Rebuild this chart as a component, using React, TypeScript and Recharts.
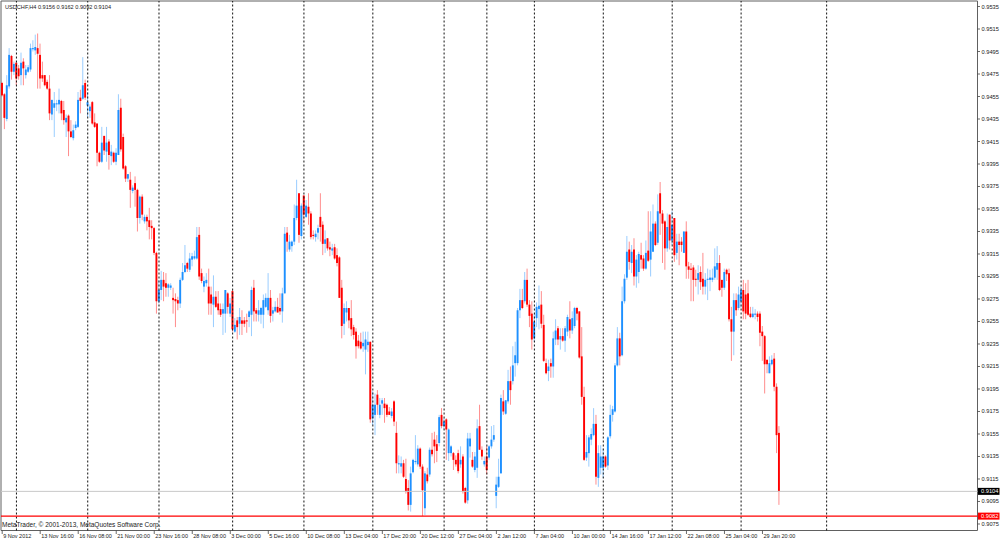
import React from 'react';
import { ComposedChart, Bar, XAxis, YAxis, ReferenceLine, ReferenceArea } from 'recharts';

const opens = [
0.9467,0.9457,0.9435,0.9464,0.9491,0.9477,0.9485,0.9480,0.9474,0.9486,
0.9474,0.9477,0.9479,0.9497,0.9496,0.9498,0.9492,0.9474,0.9474,0.9468,
0.9462,0.9439,0.9445,0.9448,0.9448,0.9451,0.9443,0.9432,0.9438,0.9424,
0.9418,0.9427,0.9428,0.9454,0.9453,0.9467,0.9447,0.9442,0.9450,0.9432,
0.9431,0.9405,0.9397,0.9420,0.9406,0.9415,0.9402,0.9405,0.9397,0.9403,
0.9445,0.9419,0.9393,0.9382,0.9381,0.9371,0.9378,0.9372,0.9347,0.9366,
0.9344,0.9348,0.9345,0.9340,0.9338,0.9316,0.9273,0.9283,0.9292,0.9289,
0.9285,0.9285,0.9276,0.9275,0.9274,0.9271,0.9292,0.9299,0.9307,0.9301,
0.9310,0.9311,0.9311,0.9332,0.9298,0.9286,0.9289,0.9286,0.9279,0.9270,
0.9277,0.9271,0.9266,0.9262,0.9262,0.9280,0.9262,0.9282,0.9246,0.9256,
0.9253,0.9256,0.9256,0.9256,0.9259,0.9261,0.9285,0.9265,0.9261,0.9261,
0.9261,0.9268,0.9265,0.9276,0.9262,0.9264,0.9268,0.9267,0.9264,0.9280,
0.9334,0.9319,0.9322,0.9326,0.9347,0.9369,0.9331,0.9367,0.9348,0.9357,
0.9351,0.9332,0.9330,0.9334,0.9348,0.9341,0.9324,0.9329,0.9321,0.9318,
0.9321,0.9314,0.9312,0.9285,0.9253,0.9263,0.9267,0.9258,0.9250,0.9246,
0.9238,0.9237,0.9233,0.9230,0.9234,0.9237,0.9169,0.9172,0.9190,0.9172,
0.9182,0.9182,0.9181,0.9175,0.9171,0.9184,0.9156,0.9128,0.9126,0.9129,
0.9115,0.9107,0.9092,0.9121,0.9130,0.9128,0.9142,0.9126,0.9089,0.9119,
0.9119,0.9141,0.9150,0.9146,0.9147,0.9172,0.9162,0.9168,0.9138,0.9138,
0.9138,0.9132,0.9138,0.9128,0.9135,0.9107,0.9096,0.9144,0.9132,0.9123,
0.9125,0.9162,0.9141,0.9128,0.9135,0.9134,0.9144,0.9150,0.9100,0.9108,
0.9120,0.9184,0.9173,0.9184,0.9202,0.9202,0.9218,0.9218,0.9265,0.9274,
0.9273,0.9292,0.9270,0.9262,0.9240,0.9258,0.9266,0.9270,0.9252,0.9218,
0.9211,0.9218,0.9215,0.9239,0.9249,0.9239,0.9242,0.9238,0.9246,0.9257,
0.9247,0.9251,0.9267,0.9264,0.9224,0.9188,0.9134,0.9138,0.9150,0.9154,
0.9164,0.9116,0.9125,0.9125,0.9135,0.9127,0.9153,0.9172,0.9175,0.9216,
0.9240,0.9225,0.9273,0.9294,0.9319,0.9307,0.9319,0.9295,0.9299,0.9314,
0.9311,0.9302,0.9318,0.9310,0.9317,0.9342,0.9325,0.9369,0.9351,0.9344,
0.9320,0.9350,0.9327,0.9347,0.9316,0.9326,0.9326,0.9316,0.9335,0.9304,
0.9302,0.9303,0.9293,0.9292,0.9299,0.9293,0.9286,0.9292,0.9292,0.9292,
0.9294,0.9301,0.9307,0.9292,0.9285,0.9301,0.9298,0.9257,0.9246,0.9274,
0.9267,0.9273,0.9283,0.9279,0.9280,0.9262,0.9259,0.9261,0.9262,0.9262,
0.9246,0.9242,0.9221,0.9209,0.9217,0.9222,0.9197,0.9156,
];

const highs = [
0.9468,0.9458,0.9474,0.9498,0.9492,0.9486,0.9486,0.9483,0.9494,0.9489,
0.9483,0.9483,0.9502,0.9505,0.9510,0.9511,0.9502,0.9486,0.9474,0.9470,
0.9474,0.9452,0.9459,0.9452,0.9462,0.9452,0.9451,0.9439,0.9439,0.9434,
0.9430,0.9433,0.9459,0.9461,0.9490,0.9470,0.9459,0.9448,0.9451,0.9440,
0.9431,0.9406,0.9428,0.9420,0.9428,0.9417,0.9412,0.9406,0.9409,0.9457,
0.9453,0.9422,0.9394,0.9386,0.9388,0.9376,0.9384,0.9373,0.9367,0.9368,
0.9350,0.9350,0.9356,0.9345,0.9339,0.9317,0.9292,0.9300,0.9299,0.9298,
0.9289,0.9289,0.9285,0.9280,0.9277,0.9294,0.9307,0.9323,0.9308,0.9316,
0.9316,0.9318,0.9339,0.9339,0.9302,0.9295,0.9298,0.9302,0.9286,0.9296,
0.9282,0.9282,0.9271,0.9271,0.9283,0.9281,0.9276,0.9283,0.9258,0.9259,
0.9267,0.9265,0.9259,0.9262,0.9265,0.9286,0.9292,0.9267,0.9274,0.9268,
0.9279,0.9280,0.9298,0.9283,0.9268,0.9273,0.9276,0.9280,0.9285,0.9339,
0.9339,0.9332,0.9327,0.9359,0.9381,0.9369,0.9360,0.9367,0.9363,0.9369,
0.9353,0.9336,0.9336,0.9341,0.9369,0.9344,0.9336,0.9329,0.9326,0.9324,
0.9324,0.9320,0.9313,0.9292,0.9271,0.9273,0.9267,0.9274,0.9252,0.9249,
0.9243,0.9245,0.9246,0.9246,0.9246,0.9237,0.9193,0.9191,0.9194,0.9187,
0.9187,0.9187,0.9182,0.9179,0.9178,0.9185,0.9166,0.9136,0.9135,0.9132,
0.9133,0.9114,0.9126,0.9133,0.9154,0.9145,0.9143,0.9128,0.9122,0.9125,
0.9143,0.9156,0.9157,0.9154,0.9172,0.9178,0.9169,0.9169,0.9160,0.9145,
0.9139,0.9136,0.9141,0.9144,0.9137,0.9108,0.9156,0.9156,0.9139,0.9139,
0.9168,0.9181,0.9144,0.9135,0.9144,0.9145,0.9162,0.9163,0.9117,0.9133,
0.9190,0.9194,0.9185,0.9212,0.9215,0.9233,0.9237,0.9267,0.9284,0.9284,
0.9299,0.9302,0.9274,0.9273,0.9262,0.9272,0.9287,0.9282,0.9261,0.9222,
0.9221,0.9222,0.9246,0.9257,0.9251,0.9249,0.9249,0.9251,0.9261,0.9273,
0.9264,0.9268,0.9268,0.9264,0.9250,0.9197,0.9154,0.9154,0.9160,0.9178,
0.9172,0.9145,0.9145,0.9142,0.9136,0.9153,0.9181,0.9180,0.9218,0.9250,
0.9245,0.9286,0.9297,0.9331,0.9326,0.9323,0.9329,0.9314,0.9317,0.9325,
0.9314,0.9327,0.9353,0.9353,0.9359,0.9344,0.9368,0.9379,0.9354,0.9345,
0.9351,0.9350,0.9353,0.9347,0.9333,0.9333,0.9330,0.9335,0.9344,0.9308,
0.9307,0.9305,0.9301,0.9305,0.9304,0.9316,0.9298,0.9302,0.9301,0.9302,
0.9320,0.9322,0.9314,0.9292,0.9302,0.9302,0.9302,0.9268,0.9280,0.9280,
0.9286,0.9286,0.9292,0.9289,0.9292,0.9268,0.9268,0.9266,0.9264,0.9264,
0.9251,0.9243,0.9221,0.9224,0.9225,0.9227,0.9200,0.9162,
];

const lows = [
0.9455,0.9426,0.9433,0.9462,0.9470,0.9474,0.9465,0.9470,0.9465,0.9465,
0.9471,0.9476,0.9477,0.9495,0.9492,0.9462,0.9462,0.9468,0.9464,0.9461,
0.9434,0.9434,0.9419,0.9442,0.9440,0.9434,0.9430,0.9419,0.9402,0.9418,
0.9416,0.9425,0.9427,0.9440,0.9452,0.9452,0.9437,0.9436,0.9430,0.9427,
0.9393,0.9396,0.9396,0.9403,0.9397,0.9390,0.9394,0.9396,0.9394,0.9403,
0.9406,0.9390,0.9379,0.9379,0.9356,0.9369,0.9357,0.9335,0.9342,0.9345,
0.9342,0.9336,0.9328,0.9328,0.9314,0.9262,0.9271,0.9274,0.9273,0.9277,
0.9277,0.9283,0.9262,0.9250,0.9265,0.9267,0.9291,0.9298,0.9299,0.9299,
0.9304,0.9310,0.9310,0.9292,0.9289,0.9281,0.9286,0.9261,0.9261,0.9250,
0.9267,0.9261,0.9259,0.9243,0.9245,0.9262,0.9259,0.9246,0.9245,0.9239,
0.9243,0.9243,0.9250,0.9245,0.9250,0.9242,0.9255,0.9255,0.9255,0.9253,
0.9249,0.9267,0.9261,0.9254,0.9255,0.9263,0.9263,0.9261,0.9254,0.9280,
0.9317,0.9317,0.9317,0.9323,0.9345,0.9325,0.9328,0.9342,0.9347,0.9341,
0.9328,0.9328,0.9326,0.9328,0.9326,0.9314,0.9316,0.9318,0.9313,0.9314,
0.9310,0.9304,0.9276,0.9240,0.9243,0.9255,0.9249,0.9242,0.9239,0.9222,
0.9231,0.9230,0.9228,0.9208,0.9228,0.9165,0.9163,0.9154,0.9172,0.9169,
0.9172,0.9165,0.9170,0.9172,0.9169,0.9162,0.9120,0.9120,0.9120,0.9116,
0.9102,0.9087,0.9086,0.9120,0.9128,0.9126,0.9124,0.9082,0.9083,0.9111,
0.9117,0.9135,0.9129,0.9130,0.9144,0.9160,0.9159,0.9132,0.9131,0.9135,
0.9123,0.9126,0.9120,0.9125,0.9102,0.9093,0.9093,0.9134,0.9125,0.9121,
0.9116,0.9141,0.9132,0.9126,0.9119,0.9132,0.9142,0.9148,0.9089,0.9107,
0.9120,0.9172,0.9172,0.9182,0.9181,0.9199,0.9206,0.9216,0.9258,0.9266,
0.9271,0.9268,0.9250,0.9230,0.9237,0.9250,0.9248,0.9249,0.9219,0.9208,
0.9202,0.9205,0.9205,0.9234,0.9234,0.9230,0.9237,0.9228,0.9242,0.9240,
0.9244,0.9249,0.9256,0.9222,0.9181,0.9131,0.9131,0.9126,0.9145,0.9153,
0.9110,0.9108,0.9119,0.9116,0.9125,0.9123,0.9151,0.9166,0.9174,0.9215,
0.9216,0.9224,0.9271,0.9292,0.9301,0.9298,0.9287,0.9285,0.9289,0.9302,
0.9300,0.9301,0.9308,0.9295,0.9317,0.9322,0.9323,0.9332,0.9307,0.9301,
0.9317,0.9319,0.9323,0.9308,0.9310,0.9305,0.9317,0.9316,0.9293,0.9293,
0.9273,0.9273,0.9286,0.9279,0.9283,0.9279,0.9279,0.9274,0.9282,0.9290,
0.9292,0.9292,0.9282,0.9277,0.9283,0.9291,0.9255,0.9220,0.9225,0.9260,
0.9265,0.9267,0.9257,0.9257,0.9260,0.9258,0.9258,0.9257,0.9255,0.9233,
0.9220,0.9191,0.9209,0.9209,0.9216,0.9193,0.9138,0.9092,
];

const closes = [
0.9456,0.9436,0.9465,0.9492,0.9477,0.9484,0.9471,0.9473,0.9485,0.9480,
0.9479,0.9481,0.9498,0.9498,0.9499,0.9493,0.9471,0.9471,0.9465,0.9462,
0.9440,0.9452,0.9449,0.9449,0.9452,0.9440,0.9434,0.9436,0.9424,0.9419,
0.9425,0.9430,0.9452,0.9451,0.9465,0.9454,0.9450,0.9446,0.9431,0.9428,
0.9405,0.9397,0.9414,0.9407,0.9414,0.9403,0.9406,0.9397,0.9405,0.9443,
0.9408,0.9391,0.9382,0.9386,0.9372,0.9374,0.9372,0.9347,0.9366,0.9350,
0.9348,0.9344,0.9339,0.9338,0.9316,0.9273,0.9283,0.9292,0.9286,0.9285,
0.9288,0.9287,0.9274,0.9273,0.9271,0.9292,0.9299,0.9305,0.9302,0.9311,
0.9313,0.9313,0.9330,0.9295,0.9291,0.9291,0.9292,0.9271,0.9271,0.9277,
0.9268,0.9265,0.9261,0.9266,0.9283,0.9268,0.9271,0.9248,0.9252,0.9250,
0.9259,0.9253,0.9253,0.9255,0.9264,0.9283,0.9264,0.9262,0.9265,0.9267,
0.9274,0.9276,0.9276,0.9260,0.9265,0.9268,0.9263,0.9264,0.9280,0.9333,
0.9326,0.9326,0.9326,0.9347,0.9358,0.9332,0.9358,0.9350,0.9358,0.9351,
0.9330,0.9331,0.9333,0.9338,0.9339,0.9324,0.9328,0.9320,0.9319,0.9320,
0.9311,0.9307,0.9276,0.9251,0.9267,0.9267,0.9256,0.9248,0.9243,0.9233,
0.9233,0.9231,0.9236,0.9239,0.9237,0.9168,0.9181,0.9181,0.9181,0.9181,
0.9185,0.9178,0.9172,0.9172,0.9175,0.9166,0.9129,0.9129,0.9129,0.9117,
0.9104,0.9092,0.9120,0.9132,0.9131,0.9142,0.9126,0.9105,0.9120,0.9113,
0.9141,0.9137,0.9144,0.9140,0.9170,0.9162,0.9166,0.9159,0.9159,0.9144,
0.9132,0.9128,0.9122,0.9132,0.9104,0.9094,0.9151,0.9151,0.9126,0.9135,
0.9160,0.9141,0.9135,0.9131,0.9123,0.9144,0.9150,0.9154,0.9110,0.9117,
0.9187,0.9175,0.9185,0.9202,0.9194,0.9216,0.9225,0.9265,0.9274,0.9267,
0.9292,0.9270,0.9260,0.9239,0.9255,0.9268,0.9269,0.9253,0.9220,0.9209,
0.9215,0.9215,0.9240,0.9247,0.9239,0.9242,0.9238,0.9249,0.9259,0.9247,
0.9258,0.9267,0.9262,0.9223,0.9188,0.9132,0.9139,0.9152,0.9155,0.9164,
0.9117,0.9138,0.9135,0.9135,0.9126,0.9152,0.9172,0.9177,0.9216,0.9240,
0.9224,0.9273,0.9293,0.9317,0.9308,0.9317,0.9295,0.9310,0.9315,0.9310,
0.9302,0.9316,0.9309,0.9335,0.9342,0.9323,0.9353,0.9351,0.9342,0.9320,
0.9339,0.9327,0.9341,0.9314,0.9326,0.9323,0.9323,0.9335,0.9304,0.9301,
0.9301,0.9292,0.9292,0.9298,0.9290,0.9286,0.9292,0.9293,0.9294,0.9294,
0.9304,0.9307,0.9283,0.9285,0.9299,0.9297,0.9257,0.9246,0.9274,0.9265,
0.9279,0.9283,0.9264,0.9262,0.9261,0.9259,0.9262,0.9262,0.9259,0.9245,
0.9242,0.9217,0.9217,0.9218,0.9221,0.9197,0.9154,0.9104,
];

const timeLabels = [
  '9 Nov 2012', '13 Nov 16:00', '16 Nov 08:00', '21 Nov 00:00', '23 Nov 16:00',
  '28 Nov 08:00', '3 Dec 00:00', '5 Dec 16:00', '10 Dec 08:00', '13 Dec 04:00',
  '17 Dec 20:00', '20 Dec 12:00', '27 Dec 04:00', '2 Jan 12:00', '7 Jan 04:00',
  '10 Jan 00:00', '14 Jan 16:00', '17 Jan 12:00', '22 Jan 08:00', '25 Jan 04:00',
  '29 Jan 20:00',
];
const labelBars = [0, 16, 32, 48, 64, 80, 96, 112, 128, 144, 160, 176, 192, 208, 224, 240, 256, 272, 288, 304, 320];

const priceTicks = [
  0.9535, 0.9515, 0.9495, 0.9475, 0.9455, 0.9435, 0.9415, 0.9395, 0.9375, 0.9355, 0.9335, 0.9315,
  0.9295, 0.9275, 0.9255, 0.9235, 0.9215, 0.9195, 0.9175, 0.9155, 0.9135, 0.9115, 0.9095, 0.9075,
];
const gridBars = [6, 36, 66, 97, 127, 156, 186, 204, 224, 253, 282, 311, 347];

const bidPrice = 0.9104;
const levelPrice = 0.9082;
const symbolText = 'USDCHF,H4  0.9156 0.9162 0.9092 0.9104';
const copyrightText = 'MetaTrader, \u00a9 2001-2013, MetaQuotes Software Corp.';

const TOTAL_SLOTS = 411;
const Y_MIN = 0.906922;
const Y_MAX = 0.953989;

const data = Array.from({ length: TOTAL_SLOTS }, (_, i) =>
  i < opens.length
    ? { i, o: opens[i], h: highs[i], l: lows[i], c: closes[i], range: [lows[i], highs[i]] }
    : { i, o: null, h: null, l: null, c: null, range: null }
);

const FONT = 'Liberation Sans, Arial, sans-serif';

const Candle = (props: any) => {
  const { x, y, width, height, payload } = props;
  if (!payload || payload.o == null || x == null || y == null) return null;
  const { o, h, l, c } = payload;
  const top = Math.min(y, y + height);
  const hh = Math.abs(height);
  const per = h - l > 0 ? hh / (h - l) : 0;
  const yO = top + (h - o) * per;
  const yC = top + (h - c) * per;
  const up = c >= o;
  const color = up ? '#1e90ff' : '#ff0000';
  const cx = x + width / 2;
  const bTop = Math.min(yO, yC);
  const bH = Math.max(Math.abs(yC - yO), 0.8);
  return (
    <g>
      <line x1={cx} x2={cx} y1={top} y2={top + hh} stroke={color} strokeOpacity={0.45} strokeWidth={1} />
      <rect x={cx - 0.95} y={bTop} width={1.9} height={bH} fill={color} />
    </g>
  );
};

const XTick = (props: any) => {
  const { x, payload } = props;
  const idx = labelBars.indexOf(Number(payload.value));
  if (idx < 0) return null;
  return (
    <g>
      <line x1={x} x2={x} y1={530.5} y2={534} stroke="#444" strokeWidth={0.8} />
      <text x={x + 1} y={538.3} fontSize={5.5} fill="#1a1a1a" fontFamily={FONT}>
        {timeLabels[idx]}
      </text>
    </g>
  );
};

const YTick = (props: any) => {
  const { y, payload } = props;
  return (
    <g>
      <line x1={977.5} x2={980} y1={y} y2={y} stroke="#444" strokeWidth={0.8} />
      <text x={981.5} y={y + 2} fontSize={5.7} fill="#1a1a1a" fontFamily={FONT}>
        {Number(payload.value).toFixed(4)}
      </text>
    </g>
  );
};

const PriceTag = (props: any) => {
  const { viewBox, text, bg } = props;
  if (!viewBox) return null;
  const x = viewBox.x + viewBox.width + 0.5;
  const y = viewBox.y;
  return (
    <g>
      <rect x={x} y={y - 3.5} width={21.5} height={7} fill={bg} />
      <text x={x + 3} y={y + 2} fontSize={5.7} fill="#fff" fontFamily={FONT}>
        {text}
      </text>
    </g>
  );
};

export default function App() {
  return (
    <div style={{ position: 'absolute', left: 0, top: 0, width: 1000, height: 541, background: '#fff' }}>
      <ComposedChart
        width={1000}
        height={541}
        data={data}
        margin={{ top: 1, right: 0.5, bottom: 0.5, left: 1 }}
        barCategoryGap={0}
        barGap={0}
      >
        <XAxis
          dataKey="i"
          type="category"
          ticks={labelBars}
          interval={0}
          tick={<XTick />}
          axisLine={false}
          tickLine={false}
          height={10}
        />
        <YAxis
          orientation="right"
          type="number"
          domain={[Y_MIN, Y_MAX]}
          allowDataOverflow
          ticks={priceTicks}
          interval={0}
          tick={<YTick />}
          axisLine={false}
          tickLine={false}
          width={22}
        />
        {gridBars.map((b) => (
          <ReferenceLine key={'g' + b} x={b} stroke="#111" strokeWidth={1} strokeDasharray="2 2" />
        ))}
        <ReferenceLine y={bidPrice} stroke="#c8c8c8" strokeWidth={1} label={<PriceTag text={bidPrice.toFixed(4)} bg="#000" />} />
        <ReferenceLine y={levelPrice} stroke="#ff0000" strokeWidth={1.4} label={<PriceTag text={levelPrice.toFixed(4)} bg="#ff0000" />} />
        <Bar dataKey="range" shape={<Candle />} isAnimationActive={false} />
        <ReferenceArea y1={Y_MIN} y2={Y_MAX} fill="none" fillOpacity={0} stroke="#606060" strokeWidth={1} />
        <text x={5} y={9} fontSize={5.6} fill="#1a1a1a" fontFamily={FONT}>{symbolText}</text>
        <text x={2} y={527.3} fontSize={6.5} fill="#1a1a1a" fontFamily={FONT}>{copyrightText}</text>
      </ComposedChart>
    </div>
  );
}
